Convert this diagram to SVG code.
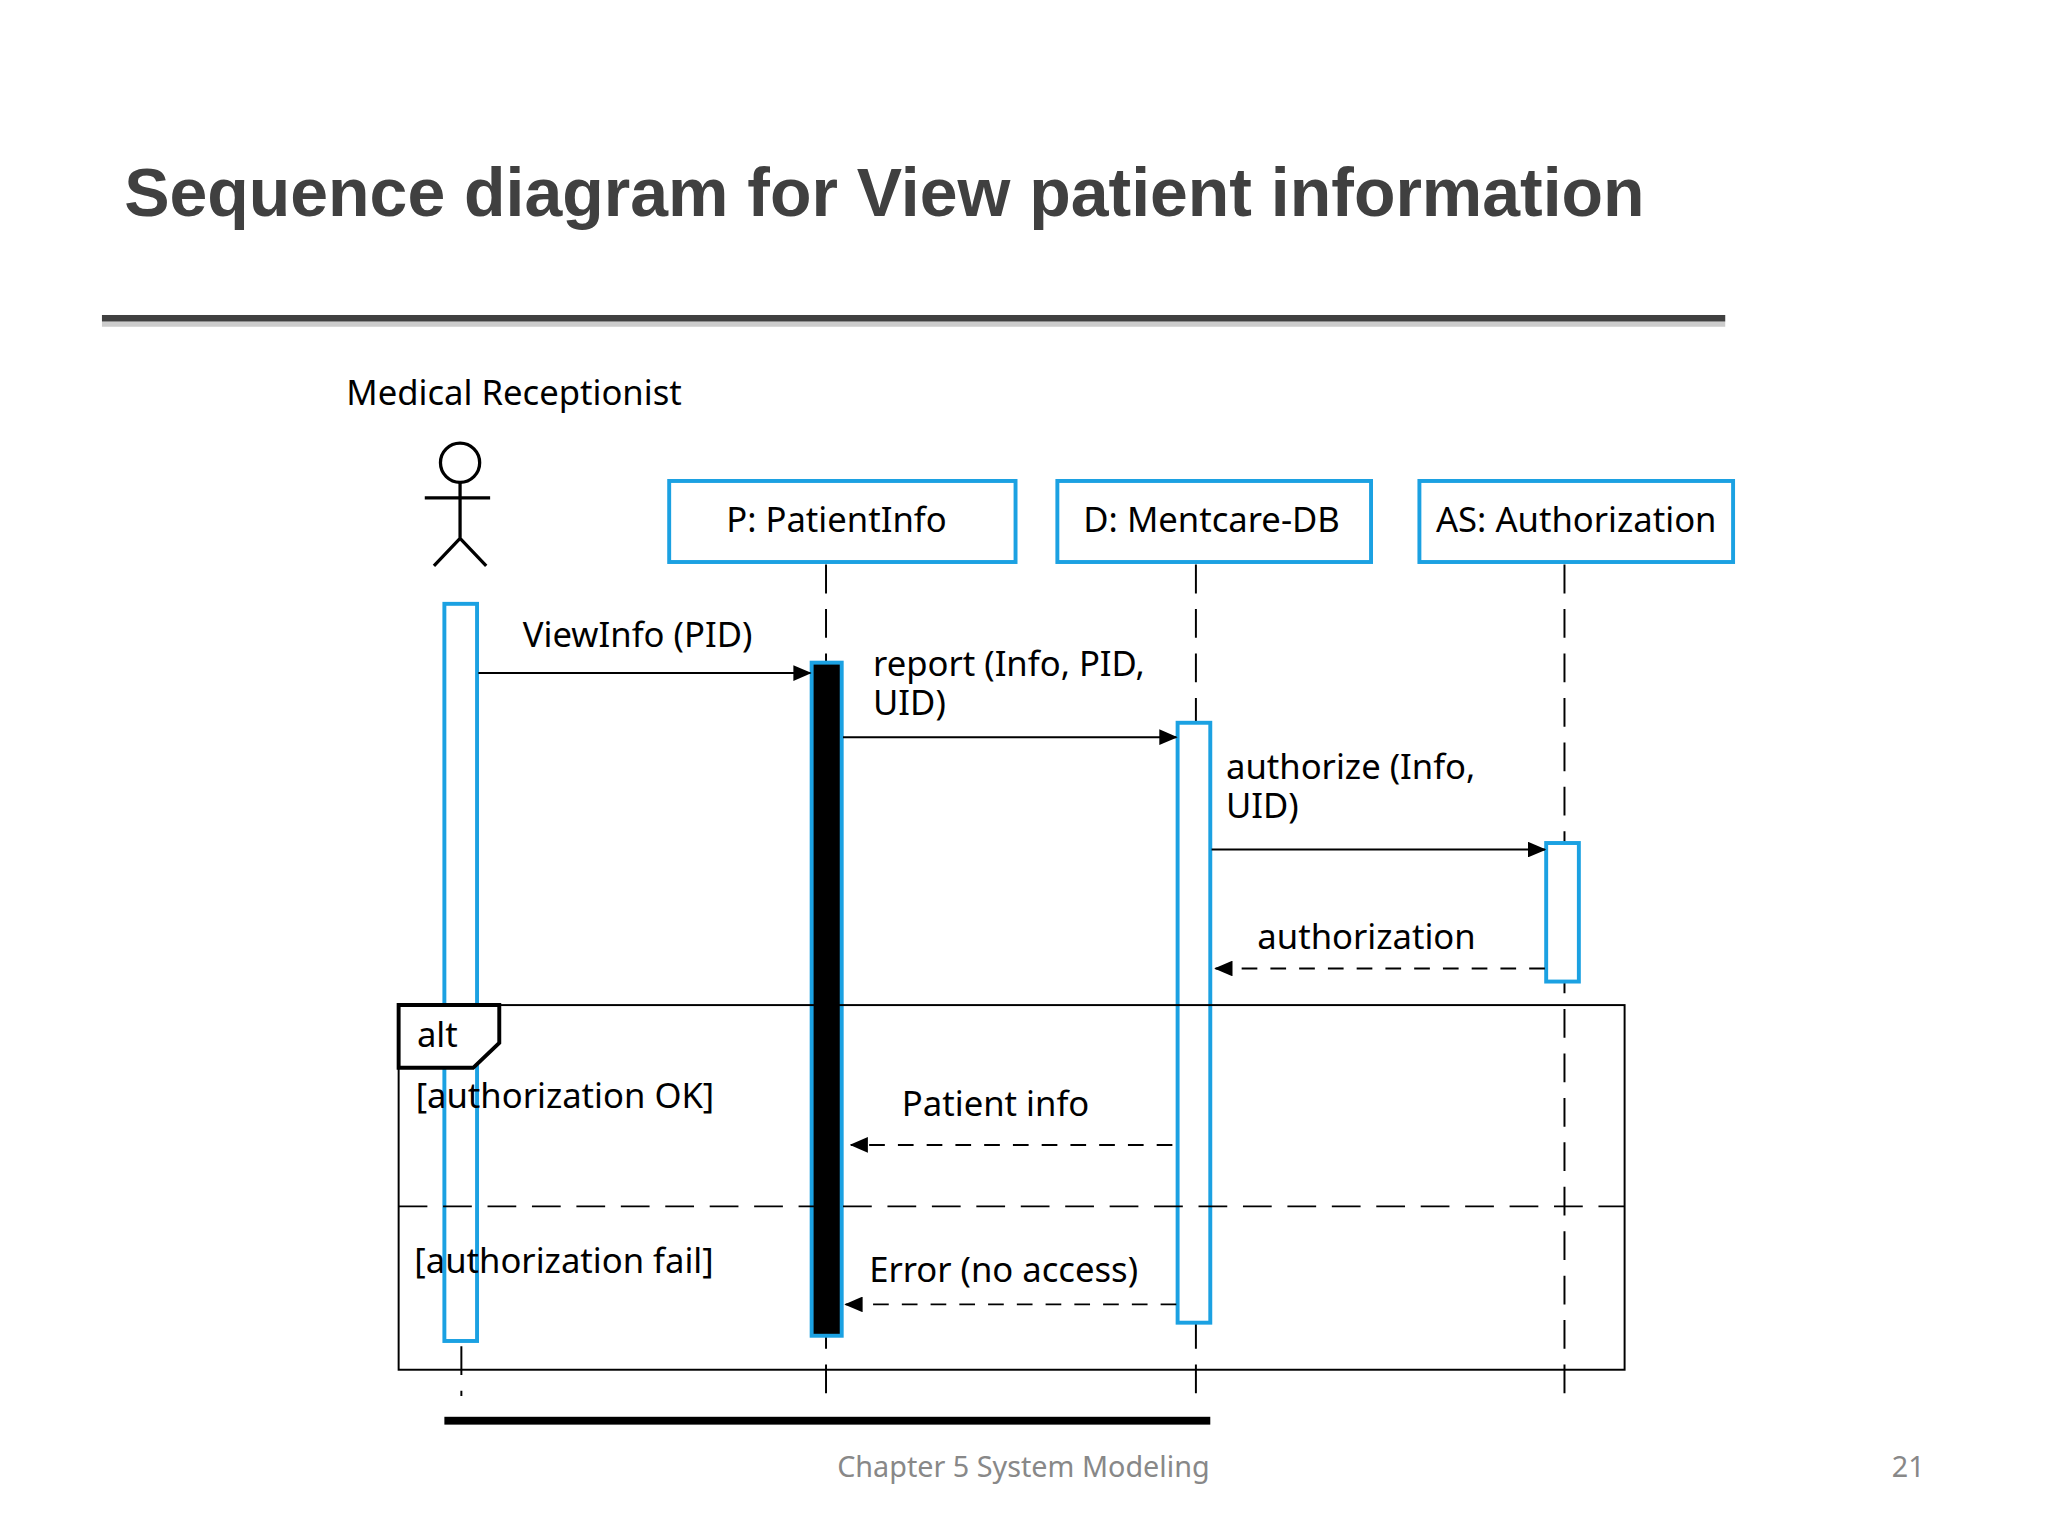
<svg xmlns="http://www.w3.org/2000/svg" width="2048" height="1536" viewBox="0 0 2048 1536">
<style>
.t{font-family:"Noto Sans","Open Sans",sans-serif;font-size:26.5px;fill:#000}
.box{fill:#fff;stroke:#1ba1e2;stroke-width:3}
.ll{stroke:#000;stroke-width:1.5;stroke-dasharray:22 12;fill:none}
.msg{stroke:#000;stroke-width:1.5;fill:none}
.ret{stroke:#000;stroke-width:1.5;stroke-dasharray:12 10;fill:none}
</style>
<defs>
<marker id="ah" markerWidth="14" markerHeight="12" refX="13" refY="6" orient="auto" markerUnits="userSpaceOnUse"><path d="M0,0 L14,6 L0,12 Z" fill="#000"/></marker>
</defs>
<rect width="2048" height="1536" fill="#fff"/>
<g transform="scale(1.307)">
<text x="95" y="165" style="font-family:'Liberation Sans',Arial,sans-serif;font-weight:bold;font-size:52px;fill:#404040">Sequence diagram for View patient information</text>
<rect x="78" y="246" width="1242" height="4" fill="#ccc"/>
<rect x="78" y="241" width="1242" height="5" fill="#404040"/>
<g id="actor">
<text class="t" x="265" y="310">Medical Receptionist</text>
<circle cx="352" cy="354" r="15" fill="none" stroke="#000" stroke-width="2.5"/>
<path d="M352,369 V412 M325,381 H375 M352,412 L332,433 M352,412 L372,433" stroke="#000" stroke-width="2.5" fill="none"/>
</g>
<g id="lifelines">
<path class="ll" d="M632,432 V1068 M915,432 V1068 M1197,432 V1068 M353,1030 V1068"/>
</g>
<g id="P"><rect class="box" x="512" y="368" width="265" height="62"/><text class="t" x="640" y="407" text-anchor="middle">P: PatientInfo</text></g>
<g id="D"><rect class="box" x="809" y="368" width="240" height="62"/><text class="t" x="927" y="407" text-anchor="middle">D: Mentcare-DB</text></g>
<g id="AS"><rect class="box" x="1086" y="368" width="240" height="62"/><text class="t" x="1206" y="407" text-anchor="middle">AS: Authorization</text></g>
<g id="activations">
<rect x="340" y="462" width="25" height="564" fill="#fff" stroke="#1ba1e2" stroke-width="3"/>
<rect x="621" y="507" width="23" height="515" fill="#000" stroke="#1ba1e2" stroke-width="3"/>
<rect x="901" y="553" width="25" height="459" fill="#fff" stroke="#1ba1e2" stroke-width="3"/>
<rect x="1183" y="645" width="25" height="106" fill="#fff" stroke="#1ba1e2" stroke-width="3"/>
</g>
<g id="alt">
<rect x="305" y="769" width="938" height="279" fill="none" stroke="#000" stroke-width="1.5"/>
<path d="M305,769 H382 V798 L362,817 H305 Z" fill="#fff" stroke="#000" stroke-width="3"/>
<text class="t" x="319" y="801">alt</text>
<path d="M305,923 H1243" class="ll"/>
<text class="t" x="318" y="848">[authorization OK]</text>
<text class="t" x="317" y="974">[authorization fail]</text>
</g>
<g id="connectors">
<path class="msg" d="M366,515 H620" marker-end="url(#ah)"/>
<path class="msg" d="M645,564 H900" stroke-width="2.5" marker-end="url(#ah)"/>
<path class="msg" d="M927,650 H1182" marker-end="url(#ah)"/>
<path class="ret" d="M1182,741 H930" marker-end="url(#ah)"/>
<path class="ret" d="M897,876 H651" marker-end="url(#ah)"/>
<path class="ret" d="M900,998 H647" marker-end="url(#ah)"/>
<text class="t" x="400" y="495">ViewInfo (PID)</text>
<text class="t" x="668" y="517">report (Info, PID,</text>
<text class="t" x="668" y="547">UID)</text>
<text class="t" x="938" y="596">authorize (Info,</text>
<text class="t" x="938" y="626">UID)</text>
<text class="t" x="962" y="726">authorization</text>
<text class="t" x="690" y="854">Patient info</text>
<text class="t" x="665" y="981">Error (no access)</text>
</g>
<rect x="340" y="1084" width="586" height="6" fill="#000"/>
<text x="783" y="1130" text-anchor="middle" style="font-family:'Noto Sans','Open Sans',sans-serif;font-size:22px;fill:#888">Chapter 5 System Modeling</text>
<text x="1460" y="1130" text-anchor="middle" style="font-family:'Noto Sans','Open Sans',sans-serif;font-size:22px;fill:#888">21</text>
</g>
</svg>
